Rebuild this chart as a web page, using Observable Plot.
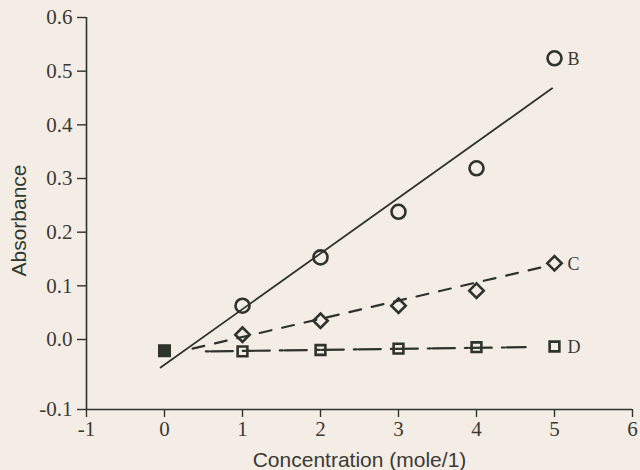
<!DOCTYPE html>
<html>
<head>
<meta charset="utf-8">
<script src="https://cdn.jsdelivr.net/npm/d3@7"></script>
<script src="https://cdn.jsdelivr.net/npm/@observablehq/plot@0.6"></script>
<style>
  html, body { margin: 0; padding: 0; background: #f4ede6; }
  #chart { width: 640px; height: 470px; }
</style>
</head>
<body>
<div id="chart"></div>
<script>
// ---- data ----
const xTicks = [-1, 0, 1, 2, 3, 4, 5, 6];
const yTicks = [-0.1, 0.0, 0.1, 0.2, 0.3, 0.4, 0.5, 0.6];
const conc = [1, 2, 3, 4, 5];
const seriesB = [0.063, 0.153, 0.238, 0.319, 0.524];
const seriesC = [0.009, 0.035, 0.063, 0.091, 0.142];
const seriesD = [-0.017, -0.015, -0.013, -0.011, -0.010];
const zeroConc = [0];
const zeroAbs = [-0.016];
// fitted lines (end points)
const fitBx = [-0.05, 4.97], fitBy = [-0.04, 0.468];
const fitCx = [0.36, 4.88], fitCy = [-0.013, 0.136];
const fitDx = [0.53, 4.63], fitDy = [-0.017, -0.011];
const seriesLabels = ["B", "C", "D"];

const ink = "#2e332b";
const textInk = "#3a3a34";

// the printed axis is stretched below zero (the 0.0 to -0.1 interval is longer)
const belowZeroStretch = 70 / 53.67;
const yStretch = v => (v < 0 ? v * belowZeroStretch : v);

const pts = (xs, ys) => xs.map((x, i) => ({x, y: ys[i]}));
const labelData = [
  {x: 5, y: seriesB[4], t: seriesLabels[0]},
  {x: 5, y: seriesC[4], t: seriesLabels[1]},
  {x: 5, y: seriesD[4], t: seriesLabels[2]}
];

const chart = Plot.plot({
  width: 640,
  height: 470,
  marginLeft: 86,
  marginRight: 8,
  marginTop: 17,
  marginBottom: 61,
  style: {background: "transparent", fontFamily: "'Liberation Serif', serif", fontSize: "21px", color: textInk},
  x: {domain: [-1, 6]},
  y: {transform: yStretch, domain: [yStretch(-0.1), 0.6]},
  marks: [
    Plot.ruleX([-1], {y1: -0.1, y2: 0.6, stroke: ink, strokeWidth: 1.6}),
    Plot.ruleY([-0.1], {x1: -1, x2: 6, stroke: ink, strokeWidth: 1.6}),
    Plot.axisY(yTicks, {tickSize: 9, tickPadding: 5, tickFormat: d => d.toFixed(1), label: null, stroke: ink, strokeWidth: 1.4, fill: textInk, fontSize: 21}),
    Plot.axisX(xTicks, {tickSize: 8, tickPadding: 4, tickFormat: d => String(d), label: null, stroke: ink, strokeWidth: 1.4, fill: textInk, fontSize: 21}),
    // fitted lines
    Plot.line(pts(fitBx, fitBy), {x: "x", y: "y", stroke: ink, strokeWidth: 1.8}),
    Plot.line(pts(fitCx, fitCy), {x: "x", y: "y", stroke: ink, strokeWidth: 2.2, strokeDasharray: "12,11"}),
    Plot.line(pts(fitDx, fitDy), {x: "x", y: "y", stroke: ink, strokeWidth: 2.2, strokeDasharray: "3,2,22,10"}),
    // points
    Plot.dot(pts(conc, seriesB), {x: "x", y: "y", r: 7, symbol: "circle", stroke: ink, strokeWidth: 2.6, fill: "none"}),
    Plot.dot(pts(conc, seriesC), {x: "x", y: "y", r: 6.5, symbol: "diamond2", stroke: ink, strokeWidth: 2.6, fill: "none"}),
    Plot.dot(pts(conc, seriesD), {x: "x", y: "y", r: 6.2, symbol: "square2", stroke: ink, strokeWidth: 2.6, fill: "none"}),
    Plot.dot(pts(zeroConc, zeroAbs), {x: "x", y: "y", r: 6.5, symbol: "square", fill: ink, stroke: ink, strokeWidth: 1.5}),
    // series labels
    Plot.text(labelData, {x: "x", y: "y", text: "t", dx: 13, dy: 1, textAnchor: "start", fill: textInk, fontSize: 18, fontFamily: "'Liberation Serif', serif"}),
    // axis titles
    Plot.text(["Absorbance"], {frameAnchor: "left", textAnchor: "middle", lineAnchor: "middle", dx: -67, dy: 7, rotate: -90, fill: "#2f3a2f", fontSize: 21, fontFamily: "'Liberation Sans', Arial, sans-serif"}),
    Plot.text(["Concentration (mole/1)"], {frameAnchor: "bottom", dy: 57, fill: textInk, fontSize: 21, fontFamily: "'Liberation Sans', Arial, sans-serif"})
  ]
});
document.getElementById("chart").appendChild(chart);
</script>
</body>
</html>
